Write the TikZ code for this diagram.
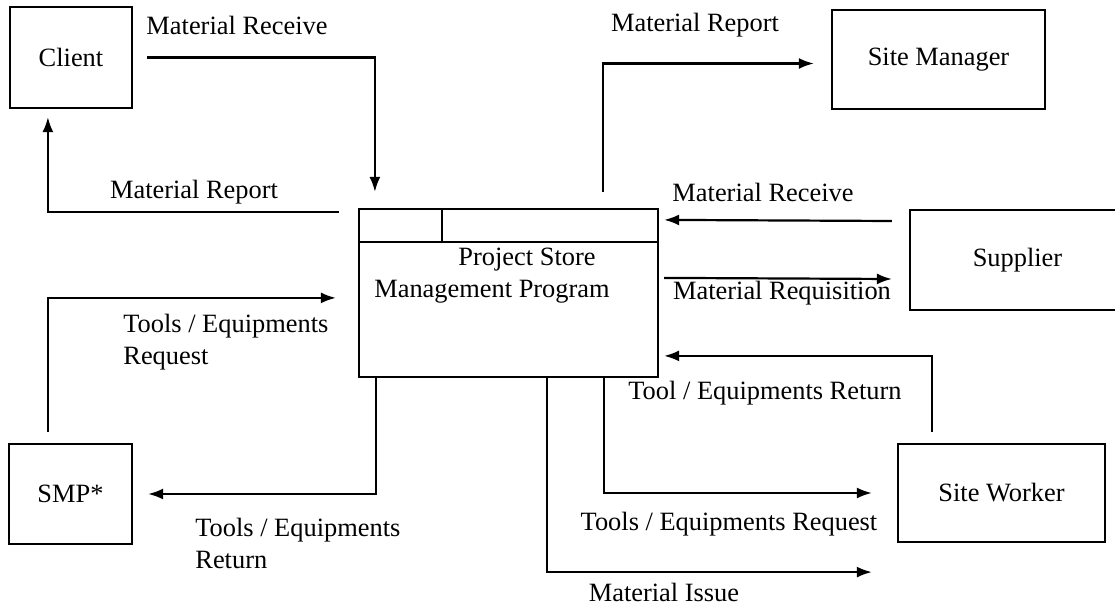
\documentclass[tikz,border=0pt]{standalone}
\usepackage{fontspec}
\setmainfont{Liberation Serif}
\usetikzlibrary{arrows.meta,calc}

\begin{document}
\begin{tikzpicture}[x=0.5pt,y=-0.5pt,
  every node/.style={font=\fontsize{13.2}{16}\selectfont},
  entity/.style={draw,line width=1.1pt,inner sep=0pt},
  lbl/.style={inner sep=0pt},
  flow/.style={line width=1.1pt,-{Latex[length=7.5pt,width=5.5pt]}},
  edge/.style={line width=1.1pt}]

\clip (0,0) rectangle (1115,604);

% external entities
\node[entity,minimum width=61pt,minimum height=50.5pt] (client) at (71,57.5) {Client};
\node[entity,minimum width=61.5pt,minimum height=50pt] (smp) at (70.5,494) {SMP*};
\node[entity,minimum width=106.5pt,minimum height=49.5pt] (smgr) at (938.5,59.5) {Site Manager};
\node[entity,minimum width=107.5pt,minimum height=50pt] (supp) at (1017.5,260) {Supplier};
\node[entity,minimum width=103.5pt,minimum height=49pt] (swork) at (1001.5,493) {Site Worker};

% process box with its header strip
\node[entity,minimum width=149.5pt,minimum height=84pt] (main) at (508.5,293) {};
\draw[edge] ($(main.north west)+(0,34)$) -- ($(main.north east)+(0,34)$);
\draw[edge] ($(main.north west)+(84,0)$) -- ($(main.north west)+(84,34)$);
\node[lbl] (ptitle1) at (527,260) {Project Store};
\node[lbl] (ptitle2) at (492,292) {Management Program};

% data flows
\draw[flow] ([xshift=7pt]client.east) -| ($(main.north west)+(17,-16)$);
\draw[flow] ($(main.north west)+(-19,4)$) -| ($(client.south west)+(39,8)$);
\draw[flow] ($(main.north west)+(245,-16)$) |- ($(smgr.west)+(-17,4)$);
\draw[flow] ($(supp.west)+(-17,-39)$) -- ($(main.north east)+(5,12)$);
\draw[flow] ($(main.north east)+(5,70)$) -- ($(supp.west)+(-17,19)$);
\draw[flow] ($(swork.north west)+(35,-11)$) |- ($(main.north east)+(5,148)$);
\draw[flow] ($(main.south west)+(246,0)$) |- ($(swork.west)+(-25,0)$);
\coordinate (issueend) at ($(swork.south west)+(-25,29)$);
\draw[flow] ($(main.south west)+(189,0)$) |- (issueend);
\draw[flow] ($(smp.north west)+(40,-11)$) |- ($(main.north west)+(-22,90)$);
\draw[flow] ($(main.south west)+(18,0)$) |- ($(smp.east)+(15,0)$);

% flow labels
\node[lbl] (l1) at (237,25) {Material Receive};
\node[lbl] (l2) at (194,192) {Material Report};
\node[lbl] (l3) at (695,25) {Material Report};
\node[lbl] (l4) at (763,192) {Material Receive};
\node[lbl] (l5) at (782,293) {Material Requisition};
\node[lbl] (l6) at (765,393) {Tool / Equipments Return};
\node[lbl] (l7) at (729,524) {Tools / Equipments Request};
\node[lbl] (l8) at (664,592) {Material Issue};
\node[lbl,align=left,anchor=west] (l9) at (123,342) {Tools / Equipments\\Request};
\node[lbl,align=left,anchor=west] (l10) at (195,543) {Tools / Equipments\\Return};

\end{tikzpicture}
\end{document}
